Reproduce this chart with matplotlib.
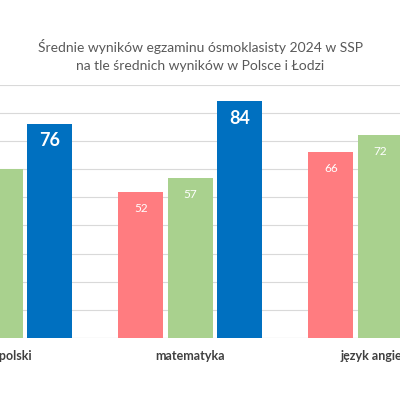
import numpy as np
import matplotlib.pyplot as plt

# dane
przedmioty = ['język polski', 'matematyka', 'język angielski']
polska = [61, 52, 66]
lodz = [60, 57, 72]
ssp = [76, 84, 88]

plt.rcParams['font.family'] = ['Lato', 'DejaVu Sans']

fig = plt.figure(figsize=(4, 4), dpi=100)
ax = fig.add_axes([0, 0.155, 1, 0.6335])

x = np.arange(len(przedmioty))
w = 0.237
d = 0.26

b1 = ax.bar(x - d, polska, w, color='#FF7C80', zorder=3)
b2 = ax.bar(x, lodz, w, color='#A9D18E', zorder=3)
b3 = ax.bar(x + d, ssp, w, color='#0070C0', zorder=3)

ax.set_ylim(0, 90)
ax.set_xlim(1 - 186 / 194, 1 + 214 / 194)

# etykiety danych (tylko te, ktore mieszcza sie w kadrze)
x0, x1 = ax.get_xlim()
for bars, fs, fw in ((b1, 8.5, 'normal'), (b2, 8.5, 'normal'), (b3, 13, 'bold')):
    for b in bars:
        cx = b.get_x() + b.get_width() / 2
        if not (x0 < cx < x1):
            continue
        ax.annotate(str(int(b.get_height())), (cx, b.get_height()),
                    xytext=(0, -12), textcoords='offset points', ha='center', va='center',
                    color='white', fontsize=fs, fontweight=fw, zorder=4,
                    annotation_clip=True, clip_on=True)

ax.set_yticks(np.arange(0, 91, 10))
ax.yaxis.grid(True, color='#D9D9D9', linewidth=0.8, zorder=0)
ax.tick_params(axis='y', left=False, labelleft=False)
ax.tick_params(axis='x', bottom=False, pad=5)
ax.set_xticks(x)
ax.set_xticklabels(przedmioty, fontsize=9, fontweight='bold', color='#404040')
for s in ax.spines.values():
    s.set_visible(False)
ax.axhline(0, color='#D9D9D9', linewidth=0.8, zorder=2)

fig.text(0.5, 0.86, 'Średnie wyników egzaminu ósmoklasisty 2024 w SSP\nna tle średnich wyników w Polsce i Łodzi',
         ha='center', va='center', fontsize=10, color='#595959', linespacing=1.6)

fig.savefig('out.png', dpi=100)
